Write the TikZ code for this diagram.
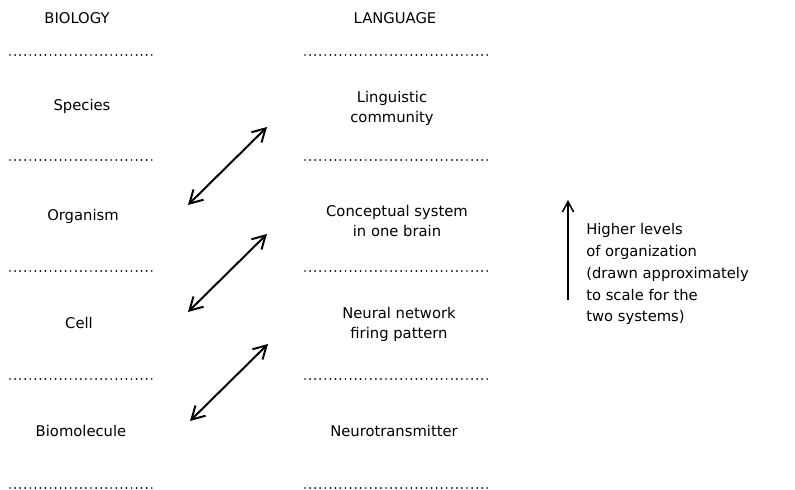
\documentclass[tikz,border=0pt]{standalone}
\usepackage{fontspec}
\setmainfont{DejaVu Sans}
\usetikzlibrary{arrows.meta}

\begin{document}
\begin{tikzpicture}[
  x=0.025cm, y=-0.025cm,
  lvl/.style={align=center, inner sep=0pt, font=\fontsize{10.5}{14.2}\selectfont},
  note/.style={align=left, inner sep=0pt, font=\fontsize{10.5}{15.6}\selectfont},
  sep/.style={line width=1.4pt, line cap=round, dash pattern=on 0pt off 3.6pt},
  link/.style={{Straight Barb[length=3.2mm,width=3.6mm]}-{Straight Barb[length=3.2mm,width=3.6mm]}, line width=1.4pt},
  rise/.style={-{Straight Barb[length=2.6mm,width=2.8mm]}, line width=1.1pt}
]
  \useasboundingbox (0,0) rectangle (795,490);

  \node[lvl] (biology) at (77, 18) {BIOLOGY};
  \node[lvl] (language) at (395, 18) {LANGUAGE};

  \foreach \y in {55, 160, 271, 379, 488} {
    \draw[sep] (10, \y) -- (156, \y);
    \draw[sep] (305, \y) -- (488, \y);
  }

  \node[lvl] (species) at (82, 106) {Species};
  \node[lvl] (organism) at (83, 216) {Organism};
  \node[lvl] (cell) at (79, 323) {Cell};
  \node[lvl] (biomolecule) at (81, 431) {Biomolecule};

  \node[lvl] (community) at (392, 108) {Linguistic\\community};
  \node[lvl] (concept) at (397, 221) {Conceptual system\\in one brain};
  \node[lvl] (network) at (399, 324) {Neural network\\firing pattern};
  \node[lvl] (transmitter) at (394, 431) {Neurotransmitter};

  \coordinate (orgEnd) at (188, 205);
  \coordinate (comEnd) at (267, 127);
  \coordinate (cellEnd) at (188, 312);
  \coordinate (conEnd) at (267, 234);
  \coordinate (molEnd) at (190, 421);
  \coordinate (netEnd) at (268, 344);
  \draw[link] (orgEnd) -- (comEnd);
  \draw[link] (cellEnd) -- (conEnd);
  \draw[link] (molEnd) -- (netEnd);

  \coordinate (riseLow) at (568, 300);
  \coordinate (riseHigh) at (568, 200);
  \draw[rise] (riseLow) -- (riseHigh);
  \node[note, anchor=west] (levels) at (586, 274) {Higher levels\\of organization\\(drawn approximately\\to scale for the\\two systems)};
\end{tikzpicture}
\end{document}
